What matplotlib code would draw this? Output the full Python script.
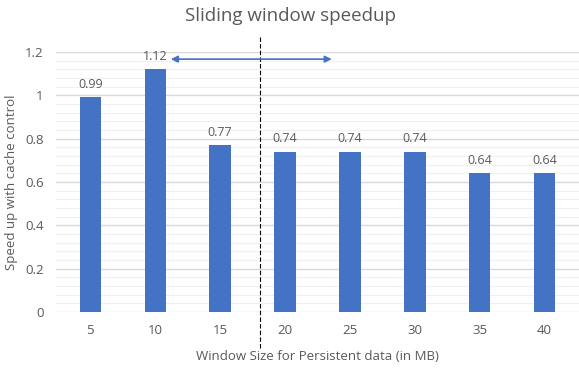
import numpy as np
import matplotlib
matplotlib.use('Agg')
import matplotlib.pyplot as plt
from matplotlib.ticker import MultipleLocator

# window size (MB) vs speedup with cache control
windows = ["5", "10", "15", "20", "25", "30", "35", "40"]
speedup = [0.99, 1.12, 0.77, 0.74, 0.74, 0.74, 0.64, 0.64]

# annotation positions (category index / value)
split_at = 2.62
arrow_from, arrow_to, arrow_y = 1.24, 3.72, 1.167

BLUE = "#4472C4"
GRAY = "#595959"

plt.rcParams['font.family'] = ['Open Sans', 'DejaVu Sans']

fig = plt.figure(figsize=(5.79, 3.72), dpi=100)
ax = fig.add_axes([56 / 579, 1 - 312 / 372, 523 / 579, 260 / 372])

x = np.arange(len(windows))
bars = ax.bar(x, speedup, width=0.33, color=BLUE, zorder=3)
for b, v in zip(bars, speedup):
    ax.text(b.get_x() + b.get_width() / 2, v + 0.03, f"{v:g}",
            ha="center", va="bottom", fontsize=9, color=GRAY)

ax.set_xlim(-0.53, len(windows) - 0.47)
ax.set_ylim(0, 1.2)
ax.yaxis.set_minor_locator(MultipleLocator(0.04))
ax.set_yticks([0, 0.2, 0.4, 0.6, 0.8, 1.0, 1.2])
ax.set_yticklabels(["0", "0.2", "0.4", "0.6", "0.8", "1", "1.2"])
ax.set_xticks(x)
ax.set_xticklabels(windows)
ax.grid(axis="y", which="major", color="#D9D9D9", linewidth=1.0, zorder=0)
ax.grid(axis="y", which="minor", color="#F0F0F0", linewidth=0.8, zorder=0)
ax.tick_params(which="both", length=0, colors=GRAY, labelsize=9.5)
ax.tick_params(axis="x", pad=9)
ax.tick_params(axis="y", pad=9)
for s in ax.spines.values():
    s.set_visible(False)

ax.set_xlabel("Window Size for Persistent data (in MB)", fontsize=9.5, color=GRAY, labelpad=9)
ax.set_ylabel("Speed up with cache control", fontsize=9.5, color=GRAY, labelpad=5)
fig.text(0.502, 1 - 16 / 372, "Sliding window speedup", fontsize=13.5, color=GRAY,
         ha="center", va="center")

# divider between window sizes
ax.plot([split_at, split_at], [-0.166, 1.27], color="black", linestyle=(0, (4, 2)),
        linewidth=0.8, clip_on=False, zorder=4)

# double-headed arrow
ax.annotate("", xy=(arrow_to, arrow_y), xytext=(arrow_from, arrow_y),
            arrowprops=dict(arrowstyle="<|-|>", color=BLUE, lw=1.2,
                            mutation_scale=10, shrinkA=0, shrinkB=0),
            annotation_clip=False, zorder=5)

fig.savefig("out.png", dpi=100)
